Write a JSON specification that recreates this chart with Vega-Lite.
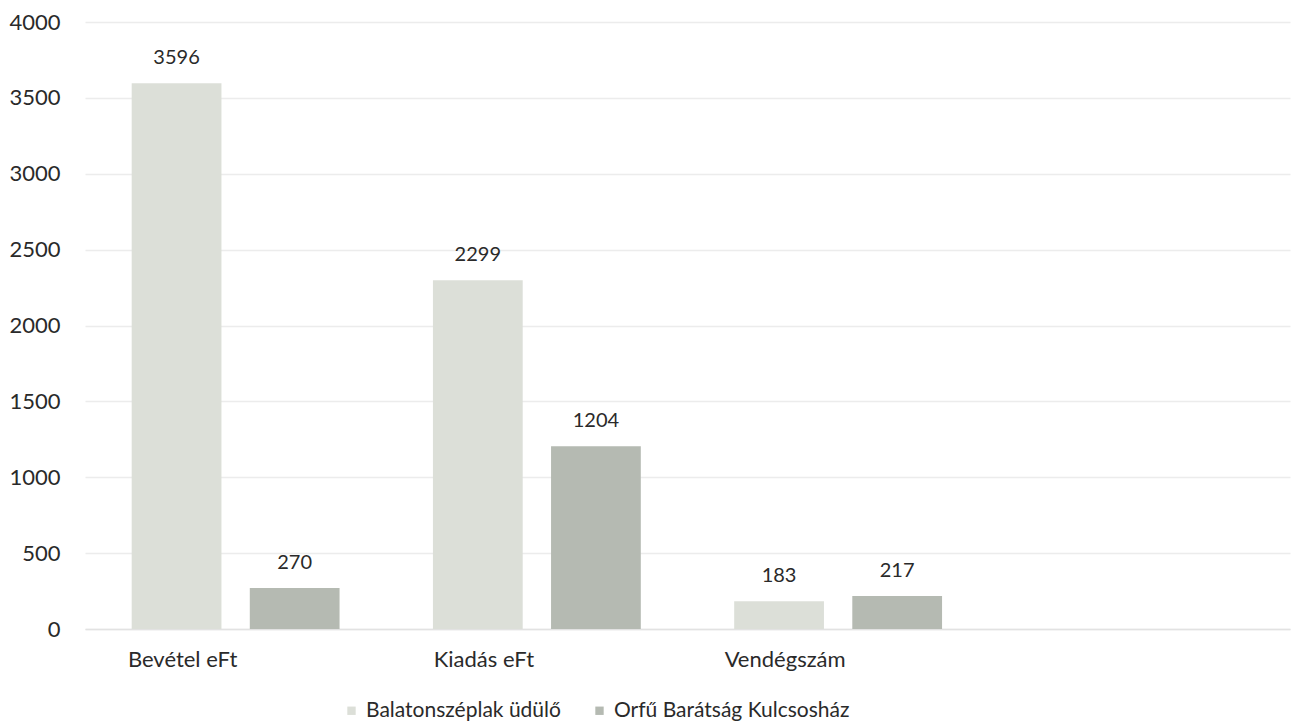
{
  "$schema": "https://vega.github.io/schema/vega-lite/v6.json",
  "autosize": {"type": "none"},
  "width": 1205,
  "height": 607,
  "padding": {"left": 85, "top": 22, "right": 13, "bottom": 94},
  "background": "white",
  "config": {
    "font": "Lato",
    "view": {"stroke": null},
    "axis": {"labelFont": "Lato", "labelFontSize": 20, "labelColor": "#2a2a2a"}
  },
  "data": {
    "values": [
      {"kategoria": "Bevétel eFt", "hely": "Balatonszéplak üdülő", "ertek": 3596},
      {"kategoria": "Bevétel eFt", "hely": "Orfű Barátság Kulcsosház", "ertek": 270},
      {"kategoria": "Kiadás eFt", "hely": "Balatonszéplak üdülő", "ertek": 2299},
      {"kategoria": "Kiadás eFt", "hely": "Orfű Barátság Kulcsosház", "ertek": 1204},
      {"kategoria": "Vendégszám", "hely": "Balatonszéplak üdülő", "ertek": 183},
      {"kategoria": "Vendégszám", "hely": "Orfű Barátság Kulcsosház", "ertek": 217}
    ]
  },
  "encoding": {
    "x": {
      "field": "kategoria", "type": "nominal",
      "scale": {"domain": ["Bevétel eFt", "Kiadás eFt", "Vendégszám", "_"], "paddingInner": 0.31, "paddingOuter": 0.155},
      "axis": {"title": null, "labelAngle": 0, "domain": true, "domainColor": "#e2e2e2", "domainWidth": 1.5, "ticks": false, "labelPadding": 20, "labelOffset": -53, "labelFontSize": 22, "labelExpr": "datum.value == '_' ? '' : datum.label"}
    },
    "xOffset": {"field": "hely", "type": "nominal", "scale": {"paddingInner": 0.24, "paddingOuter": 0}},
    "y": {
      "field": "ertek", "type": "quantitative",
      "scale": {"domain": [0, 4000], "nice": false},
      "axis": {"title": null, "format": "d", "values": [0,500,1000,1500,2000,2500,3000,3500,4000], "domain": false, "ticks": false, "gridColor": "#ececec", "gridWidth": 1.5, "labelPadding": 25, "labelFontSize": 22}
    }
  },
  "layer": [
    {
      "mark": {"type": "bar"},
      "encoding": {
        "color": {
          "field": "hely", "type": "nominal",
          "scale": {"domain": ["Balatonszéplak üdülő", "Orfű Barátság Kulcsosház"], "range": ["#dcdfd8", "#b5bab2"]},
          "legend": {"title": null, "orient": "none", "direction": "horizontal", "legendX": 256, "legendY": 678, "symbolType": "square", "symbolSize": 70, "labelFontSize": 21, "labelFont": "Lato", "labelColor": "#2a2a2a", "labelLimit": 500, "columnPadding": 28, "symbolStrokeWidth": 0}
        }
      }
    },
    {
      "mark": {"type": "text", "baseline": "bottom", "dy": -15, "fontSize": 20, "font": "Lato", "color": "#2a2a2a"},
      "encoding": {"text": {"field": "ertek", "type": "quantitative"}}
    }
  ]
}
